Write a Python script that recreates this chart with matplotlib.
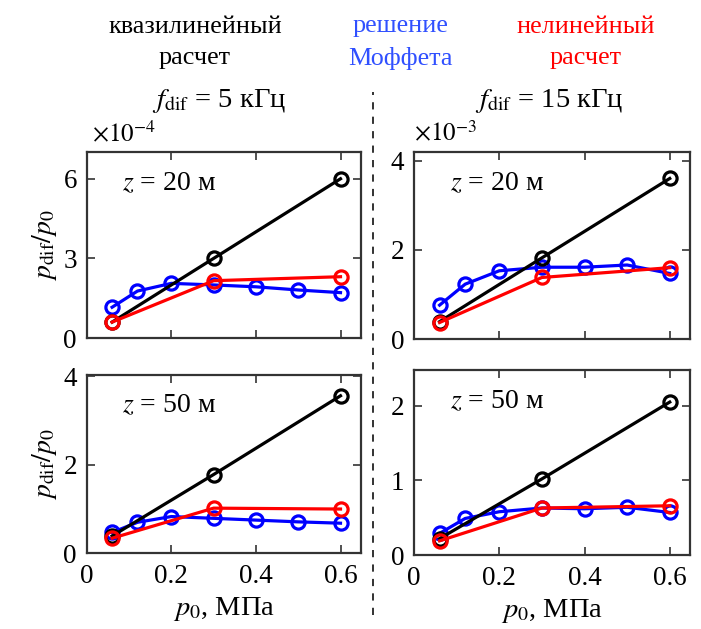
import numpy as np
import matplotlib.pyplot as plt

plt.rcParams['font.family'] = ['Liberation Serif', 'DejaVu Serif']
plt.rcParams['mathtext.fontset'] = 'stix'

# pressure p0, MPa
p_quasi = [0.06, 0.3, 0.6]
p_moff = [0.06, 0.12, 0.2, 0.3, 0.4, 0.5, 0.6]
p_nonlin = [0.06, 0.3, 0.6]

# f = 5 kHz, z = 20 m (x1e-4)
q_5_20 = [0.6, 3.0, 6.0]
m_5_20 = [1.16, 1.77, 2.06, 2.0, 1.93, 1.81, 1.71]
n_5_20 = [0.6, 2.16, 2.31]
# f = 15 kHz, z = 20 m (x1e-3)
q_15_20 = [0.39, 1.82, 3.6]
m_15_20 = [0.76, 1.23, 1.53, 1.61, 1.61, 1.66, 1.47]
n_15_20 = [0.37, 1.38, 1.6]
# f = 5 kHz, z = 50 m
q_5_50 = [0.39, 1.78, 3.56]
m_5_50 = [0.47, 0.70, 0.83, 0.79, 0.75, 0.71, 0.68]
n_5_50 = [0.34, 1.02, 1.0]
# f = 15 kHz, z = 50 m
q_15_50 = [0.22, 1.02, 2.05]
m_15_50 = [0.29, 0.49, 0.58, 0.63, 0.62, 0.64, 0.57]
n_15_50 = [0.19, 0.63, 0.66]

panels = [
    ([0.1237, 0.4626, 0.391, 0.2962], q_5_20, m_5_20, n_5_20, 7.02, [0, 3, 6], "20"),
    ([0.5906, 0.4610, 0.394, 0.2978], q_15_20, m_15_20, n_15_20, 4.2, [0, 2, 4], "20"),
    ([0.1237, 0.1204, 0.391, 0.2834], q_5_50, m_5_50, n_5_50, 4.03, [0, 2, 4], "50"),
    ([0.5906, 0.1176, 0.394, 0.2942], q_15_50, m_15_50, n_15_50, 2.48, [0, 1, 2], "50"),
]

fig = plt.figure(figsize=(7.01, 6.29), dpi=100)
frame = '#333333'

axes = []
for i, (rect, q, m, n, ytop, yt, z) in enumerate(panels):
    ax = fig.add_axes(rect)
    ax.plot(p_moff, m, '-o', color='#0000ff', lw=2.3, ms=9.5, mfc='none', mew=2.3, zorder=3)
    ax.plot(p_quasi, q, '-o', color='black', lw=2.3, ms=9.5, mfc='none', mew=2.3, zorder=4)
    ax.plot(p_nonlin, n, '-o', color='#ff0000', lw=2.3, ms=9.5, mfc='none', mew=2.3, zorder=5)
    ax.set_xlim(0, 0.648)
    ax.set_ylim(0, ytop)
    ax.set_xticks([0, 0.2, 0.4, 0.6])
    ax.set_yticks(yt)
    ax.tick_params(direction='in', top=True, right=True, length=6, width=1.2,
                   color=frame, labelsize=19.5, pad=7)
    ax.tick_params(axis='x', pad=8)
    for s in ax.spines.values():
        s.set_color(frame)
        s.set_linewidth(1.6)
    ax.text(0.13, 0.83, f"$z$ = {z} м", transform=ax.transAxes, fontsize=20,
            va='center')
    if i < 2:
        ax.set_xticklabels([])
    else:
        ax.set_xticklabels(['0', '0.2', '0.4', '0.6'])
        ax.set_xlabel(r"$p_0$, МПа", fontsize=20.5, labelpad=4)
    if i % 2 == 0:
        ax.set_ylabel(r"$p_{\mathrm{dif}}/p_0$", fontsize=20, labelpad=3)
    axes.append(ax)

axes[0].text(0.02, 1.03, r"$\times 10^{-4}$", transform=axes[0].transAxes,
             fontsize=18, ha='left', va='bottom')
axes[1].text(0.0, 1.03, r"$\times 10^{-3}$", transform=axes[1].transAxes,
             fontsize=18, ha='left', va='bottom')

fig.text(0.312, 0.839, r"$f_{\mathrm{dif}}$ = 5 кГц", fontsize=20.5, ha='center', va='center')
fig.text(0.783, 0.839, r"$f_{\mathrm{dif}}$ = 15 кГц", fontsize=20.5, ha='center', va='center')

fig.text(0.278, 0.932, "квазилинейный\nрасчет", fontsize=18.8, ha='center', va='center',
         color='black', linespacing=1.55)
fig.text(0.571, 0.932, "решение\nМоффета", fontsize=18.8, ha='center', va='center',
         color='#3050ff', linespacing=1.55)
fig.text(0.835, 0.932, "нелинейный\nрасчет", fontsize=18.8, ha='center', va='center',
         color='#ff0000', linespacing=1.55)

fig.add_artist(plt.Line2D([0.532, 0.532], [0.022, 0.854], transform=fig.transFigure,
                          color='#222222', lw=1.3, ls=(0, (4, 4))))

fig.savefig('out.png', dpi=100, facecolor='white')
